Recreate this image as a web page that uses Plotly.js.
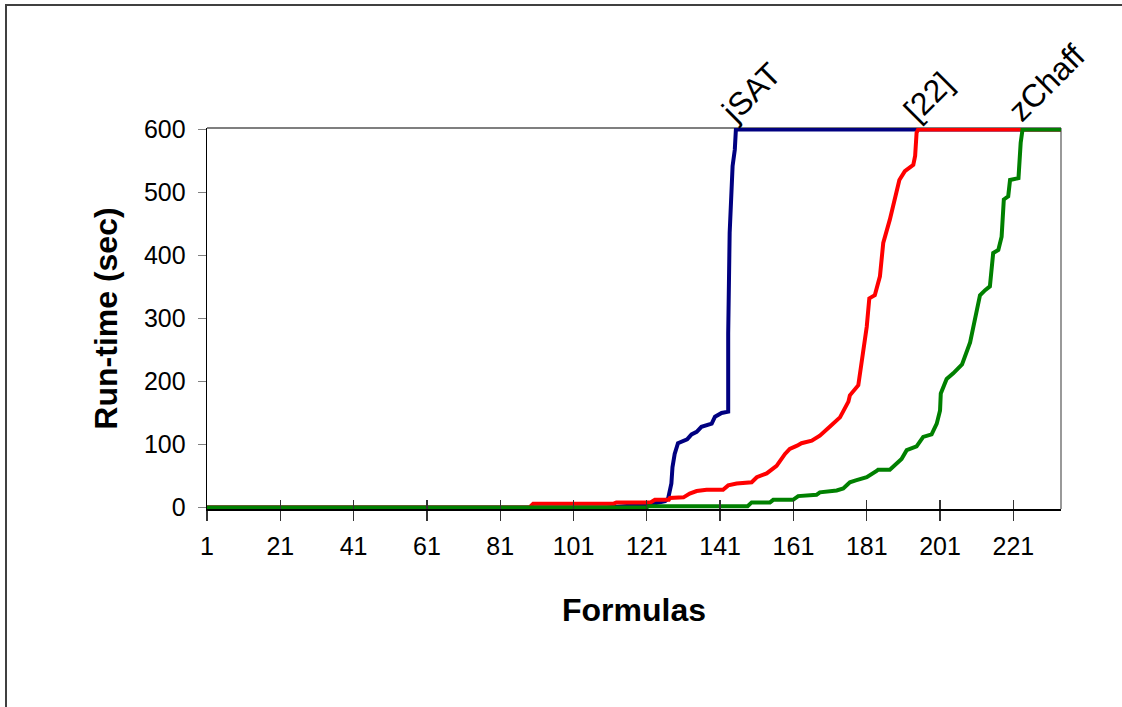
<!DOCTYPE html>
<html>
<head>
<meta charset="utf-8">
<script src="https://cdn.plot.ly/plotly-3.0.1.min.js"></script>
<style>
  html, body { margin: 0; padding: 0; background: #ffffff; }
  #chart { width: 1122px; height: 707px; position: relative; }
  #frame { position: absolute; left: 5px; top: 4px; width: 1200px; height: 800px;
           border-left: 2px solid #404040; border-top: 2px solid #404040; pointer-events: none; }
</style>
</head>
<body>
<div id="chart"></div>
<div id="frame"></div>
<script>
// ---- data (formula index -> run-time in seconds) ----
const jsatX = [1, 110, 122, 126, 126.8, 127.7, 128, 128.6, 129.5, 132, 133.2, 134.6, 135.9, 138.7, 139.6, 141.4, 143.2, 143.2, 143.6, 144.4, 145, 145.3, 234];
const jsatY = [0, 0, 5, 10, 14, 38, 64, 85, 102, 108, 116, 120, 128, 133, 144, 150, 152, 276, 436, 542, 568, 600, 600];

const ref22X = [1, 89, 90, 112, 112.7, 122, 123.2, 127, 127.3, 131, 132.7, 134.6, 137.3, 141.8, 143.2, 145.5, 149.6, 151, 153.7, 156.4, 158.7, 160, 162, 163.2, 166, 168.2, 170.9, 173.7, 176, 176.4, 178.7, 179.6, 181, 181.7, 183.2, 184.6, 185.5, 187.3, 188.7, 189.9, 191.4, 193.7, 194.2, 194.6, 195, 234];
const ref22Y = [0, 0, 6, 6, 8, 8, 12, 12, 15, 16, 22, 26, 28, 28, 35, 38, 40, 48, 54, 66, 85, 93, 98, 102, 106, 114, 128, 143, 168, 178, 194, 234, 287, 332, 337, 367, 420, 457, 489, 520, 534, 544, 558, 595, 600, 600];

const zchaffX = [1, 121, 121.5, 148.5, 149.6, 154.6, 155.5, 160.9, 162.3, 167.3, 168.2, 172.8, 174.6, 176.4, 178, 181, 183.7, 184.1, 187.3, 190.5, 191.9, 194.6, 196.4, 198.7, 200.1, 201, 201.2, 202.8, 204.6, 207, 209.2, 211.9, 213.3, 214.6, 215.5, 216.9, 217.8, 218.4, 219.6, 220.1, 222.4, 223, 223.5, 234];
const zchaffY = [0, 0, 2, 2, 8, 8, 12, 12, 18, 20, 24, 27, 30, 40, 43, 48, 58, 60, 60, 77, 91, 97, 112, 116, 133, 154, 181, 204, 213, 227, 262, 337, 345, 351, 404, 409, 430, 489, 494, 520, 523, 579, 600, 600];

const seriesNames = ['jSAT', '[22]', 'zChaff'];
const seriesColors = ['#000080', '#FF0000', '#008000'];
const labelAtX = [145.3, 195, 223.5];   // where each series reaches the 600 s limit
const labelAtY = [600, 600, 600];

const xTickVals = [1, 21, 41, 61, 81, 101, 121, 141, 161, 181, 201, 221];
const xTickText = ['1', '21', '41', '61', '81', '101', '121', '141', '161', '181', '201', '221'];
const yTickVals = [0, 100, 200, 300, 400, 500, 600];
const yTickText = ['0', '100', '200', '300', '400', '500', '600'];

const FONT = 'Arial, "Liberation Sans", sans-serif';

const xs = [jsatX, ref22X, zchaffX];
const ys = [jsatY, ref22Y, zchaffY];
const traces = xs.map((x, k) => ({
  type: 'scatter', mode: 'lines', x: x, y: ys[k], name: seriesNames[k],
  line: { color: seriesColors[k], width: 4, shape: 'linear' },
  hoverinfo: 'skip', showlegend: false, xaxis: 'x', yaxis: 'y'
}));
// empty trace so the overlay axis (inner half of crossing tick marks) is drawn
traces.push({ type: 'scatter', mode: 'lines', x: [], y: [], xaxis: 'x2', yaxis: 'y', showlegend: false, hoverinfo: 'skip' });

const annotations = seriesNames.map((t, k) => ({
  x: labelAtX[k], y: labelAtY[k], xref: 'x', yref: 'y', text: t, showarrow: false,
  textangle: -45, xanchor: 'left', yanchor: 'bottom', xshift: -24, yshift: -2,
  font: { family: FONT, size: 32, color: '#000000' }
}));

const layout = {
  width: 1122, height: 707,
  margin: { l: 207, r: 61, t: 128, b: 198, pad: 0 },
  paper_bgcolor: '#ffffff', plot_bgcolor: '#ffffff',
  showlegend: false,
  font: { family: FONT, color: '#000000' },
  xaxis: {
    range: [1, 234], tickmode: 'array', tickvals: xTickVals, ticktext: xTickText,
    ticks: 'outside', ticklen: 10, tickwidth: 1.3, tickcolor: '#333333',
    showline: true, linecolor: '#000000', linewidth: 2, showgrid: false, zeroline: false,
    tickfont: { family: FONT, size: 25, color: '#000000' },
    ticklabelstandoff: 4,
    title: { text: '<b>Formulas</b>', font: { family: FONT, size: 32, color: '#000000' }, standoff: 40 },
    fixedrange: true
  },
  xaxis2: {
    overlaying: 'x', matches: 'x', anchor: 'y', side: 'bottom',
    range: [1, 234], tickmode: 'array', tickvals: xTickVals,
    ticks: 'inside', ticklen: 9, tickwidth: 1.3, tickcolor: '#333333',
    showticklabels: false, showline: false, showgrid: false, zeroline: false, fixedrange: true
  },
  yaxis: {
    range: [-2.5, 602.5], tickmode: 'array', tickvals: yTickVals, ticktext: yTickText,
    ticks: 'outside', ticklen: 8, tickwidth: 1.3, tickcolor: '#808080',
    showline: true, linecolor: '#000000', linewidth: 1.3, showgrid: false, zeroline: false,
    tickfont: { family: FONT, size: 25, color: '#000000' },
    ticklabelstandoff: 7,
    title: { text: '<b>Run-time (sec)</b>', font: { family: FONT, size: 32, color: '#000000' }, standoff: 16 },
    fixedrange: true
  },
  shapes: [
    { type: 'line', xref: 'paper', yref: 'paper', x0: 0, x1: 1, y0: 1, y1: 1, layer: 'below',
      line: { color: '#000000', width: 1.2 } },
    { type: 'line', xref: 'paper', yref: 'paper', x0: 1, x1: 1, y0: 0, y1: 1, layer: 'below',
      line: { color: '#808080', width: 1.6 } }
  ],
  annotations: annotations
};

Plotly.newPlot('chart', traces, layout, { staticPlot: true, displayModeBar: false });
</script>
</body>
</html>
